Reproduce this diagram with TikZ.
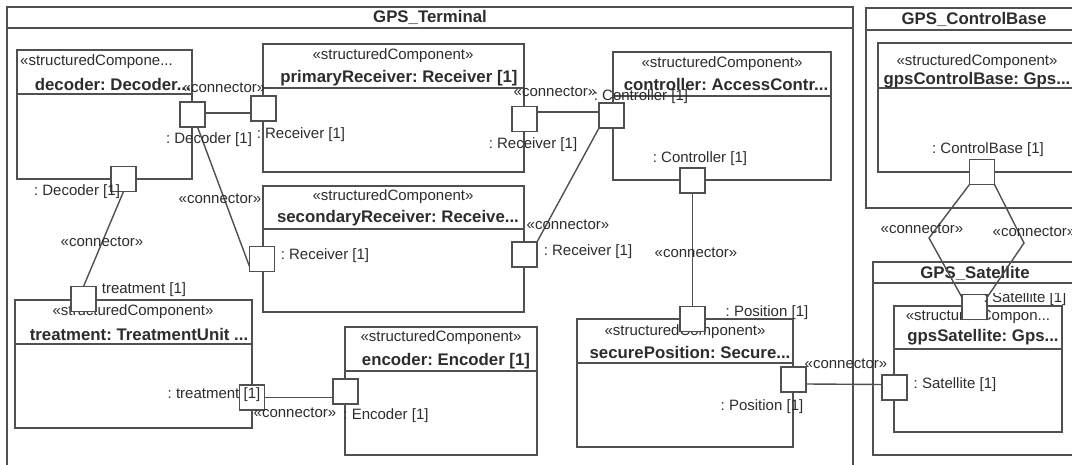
\documentclass[tikz,border=0pt]{standalone}
\usepackage{fontspec}
\setmainfont{Liberation Sans}
\usetikzlibrary{fit}
\definecolor{linec}{RGB}{80,80,80}
\definecolor{txtc}{RGB}{45,45,45}
\frenchspacing
\begin{document}
\begin{tikzpicture}[x=1pt,y=-1pt,
  frame/.style={draw=linec, line width=1.7pt, inner sep=0pt, outer sep=0pt},
  comp/.style={draw=linec, fill=white, line width=1.8pt, inner sep=0pt, outer sep=0pt},
  div/.style={draw=linec, line width=1.7pt},
  port/.style={draw=linec, fill=white, line width=1.6pt, minimum size=25pt, inner sep=0pt, outer sep=0pt},
  conn/.style={draw=linec, line width=1.4pt},
  lbl/.style={font=\fontsize{15}{17}\selectfont, text=txtc, inner sep=0pt},
  nm/.style={font=\fontsize{16.8}{19}\selectfont\bfseries, text=txtc, inner sep=0pt},
]
\useasboundingbox (0,0) rectangle (1072,465);
\fill[white] (0,0) rectangle (1072,465);
\clip (0,0) rectangle (1072,465);

% ---------- frames ----------
\node[frame, fit={(7,7) (853,480)}] (terminal) {};
\draw[div] (7,28) -- (853,28);
\node[nm] (tterminal) at (430,17) {GPS\_Terminal};

\node[frame, fit={(866,8) (1095,208)}] (controlbase) {};
\draw[div] (866,30) -- (1095,30);
\node[nm] (tcontrolbase) at (974,19) {GPS\_ControlBase};

\node[frame, fit={(873,262) (1095,455)}] (satellite) {};
\draw[div] (873,283) -- (1095,283);
\node[nm] (tsatellite) at (975,273) {GPS\_Satellite};

% ---------- components ----------
\node[comp, fit={(17,50) (192,179)}] (decoder) {};
\draw[div] (17,94) -- (192,94);
\node[lbl, anchor=west] (sdecoder) at (20,62) {«structuredCompone...};
\node[nm, anchor=east] (ndecoder) at (191,84) {decoder: Decoder...};

\node[comp, fit={(263,44) (524,172)}] (primary) {};
\draw[div] (263,88) -- (524,88);
\node[lbl] (sprimary) at (393,56) {«structuredComponent»};
\node[nm] (nprimary) at (399,78) {primaryReceiver: Receiver [1]};

\node[comp, fit={(613,52) (831,180)}] (controller) {};
\draw[div] (613,96) -- (831,96);
\node[lbl] (scontroller) at (722,64) {«structuredComponent»};
\node[nm] (ncontroller) at (726,84) {controller: AccessContr...};

\node[comp, fit={(263,186) (524,312)}] (secondary) {};
\draw[div] (263,229) -- (524,229);
\node[lbl] (ssecondary) at (393,197) {«structuredComponent»};
\node[nm] (nsecondary) at (398,218) {secondaryReceiver: Receive...};

\node[comp, fit={(15,300) (252,428)}] (treatment) {};
\draw[div] (15,344) -- (252,344);
\node[lbl] (streatment) at (133,312) {«structuredComponent»};
\node[nm] (ntreatment) at (139,334) {treatment: TreatmentUnit ...};

\node[comp, fit={(345,327) (537,455)}] (encoder) {};
\draw[div] (345,371) -- (537,371);
\node[lbl] (sencoder) at (441,338) {«structuredComponent»};
\node[nm] (nencoder) at (446,361) {encoder: Encoder [1]};

\node[comp, fit={(577,319) (793,447)}] (position) {};
\draw[div] (577,363) -- (793,363);
\node[lbl] (sposition) at (685,332) {«structuredComponent»};
\node[nm] (nposition) at (690,352) {securePosition: Secure...};

\node[comp, fit={(878,43) (1095,172)}] (gpscb) {};
\draw[div] (878,88) -- (1095,88);
\node[lbl] (sgpscb) at (977,62) {«structuredComponent»};
\node[nm] (ngpscb) at (977,80) {gpsControlBase: Gps...};

\node[comp, fit={(894,306) (1062,432)}] (gpssat) {};
\draw[div] (894,349) -- (1062,349);
\node[lbl] (sgpssat) at (978,317) {«structuredCompon...};
\node[nm] (ngpssat) at (983,337) {gpsSatellite: Gps...};

% ---------- ports ----------
\node[port] (pdecR) at (192.5,114.5) {};
\node[port] (pdecB) at (123.5,179) {};
\node[port] (pprimL) at (263.5,108.5) {};
\node[port] (pprimR) at (524.5,119) {};
\node[port] (pctlL) at (611.5,115.5) {};
\node[port] (pctlB) at (692.5,180.5) {};
\node[port] (psecL) at (262,259) {};
\node[port] (psecR) at (524.5,254.5) {};
\node[port] (ptreatT) at (83.5,299) {};
\node[port] (ptreatR) at (252,397.5) {};
\node[port] (pencL) at (345.5,391.5) {};
\node[port] (pposT) at (692.5,319) {};
\node[port] (pposR) at (793.5,379.5) {};
\node[port] (pcb) at (982,172) {};
\node[port] (psatT) at (974.5,307) {};
\node[port] (psatL) at (894.5,387.5) {};

% ---------- connectors ----------
\coordinate (bendL) at (929,238);
\coordinate (bendR) at (1024,243);
\draw[conn] ([yshift=1.5pt]pdecR.east) -- ([yshift=-4.5pt]pprimL.west);
\draw[conn] ([yshift=7pt]pprimR.east) -- ([yshift=3.5pt]pctlL.west);
\draw[conn] ([xshift=5pt]pdecR.south) -- ([yshift=5pt]psecL.south west);
\draw[conn] (psecR.north east) -- (pctlL.south west);
\draw[conn] (pctlB.south) -- (pposT.north);
\draw[conn] (pdecB.south) -- (ptreatT.north);
\draw[conn] ([yshift=0pt]ptreatR.east) -- ([yshift=-6pt]pencL.west);
\draw[conn] ([yshift=-4.5pt]pposR.east) -- ([yshift=3pt]psatL.west);
\draw[conn] (pcb.south west) -- (bendL) -- ([yshift=-3pt]psatT.north west);
\draw[conn] (pcb.south east) -- (bendR) -- ([yshift=-3pt]psatT.north east);

% ---------- port labels ----------
\node[lbl] (ldecR) at (209,140) {: Decoder [1]};
\node[lbl] (ldecB) at (77,192) {: Decoder [1]};
\node[lbl] (lprimL) at (301,135) {: Receiver [1]};
\node[lbl] (lprimR) at (533,145) {: Receiver [1]};
\node[lbl] (lctlL) at (641,97) {: Controller [1]};
\node[lbl] (lctlB) at (700,159) {: Controller [1]};
\node[lbl] (lsecL) at (325,256) {: Receiver [1]};
\node[lbl] (lsecR) at (588,252) {: Receiver [1]};
\node[lbl] (ltreatT) at (144,290) {treatment [1]};
\node[lbl] (ltreatR) at (214,395) {: treatment [1]};
\node[lbl] (lencL) at (386,416) {: Encoder [1]};
\node[lbl] (lposT) at (767,313) {: Position [1]};
\node[lbl] (lposR) at (762,407) {: Position [1]};
\node[lbl] (lcb) at (988,150) {: ControlBase [1]};
\node[lbl] (lsatL) at (955,385) {: Satellite [1]};
\begin{scope}
\clip (975,294) rectangle (1072,312);
\node[lbl] (lsatT) at (1025,299) {: Satellite [1]};
\end{scope}

% ---------- connector labels ----------
\node[lbl] (c1) at (224,88) {«connector»};
\node[lbl] (c2) at (555,92) {«connector»};
\node[lbl] (c3) at (220,199) {«connector»};
\node[lbl] (c4) at (568,225) {«connector»};
\node[lbl] (c5) at (696,253) {«connector»};
\node[lbl] (c6) at (102,242) {«connector»};
\node[lbl] (c7) at (295,413) {«connector»};
\node[lbl] (c8) at (846,364) {«connector»};
\node[lbl] (c9) at (922,229) {«connector»};
\node[lbl] (c10) at (1034,232) {«connector»};
\end{tikzpicture}
\end{document}
